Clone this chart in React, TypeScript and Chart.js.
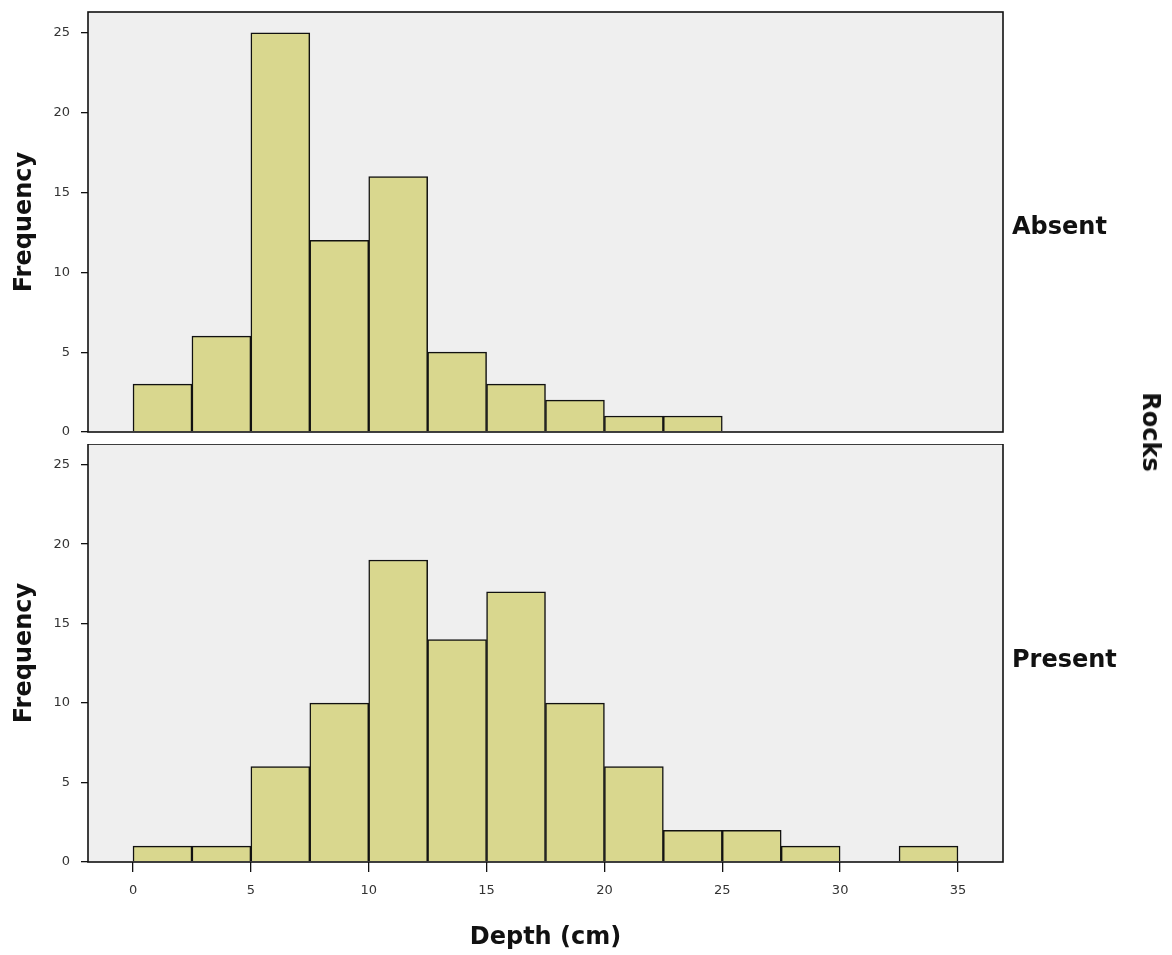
import React, { useEffect, useRef } from "react";
import { Chart, registerables } from "chart.js";

Chart.register(...registerables);

// ---- data ----
const absentBinStarts = [0, 2.5, 5, 7.5, 10, 12.5, 15, 17.5, 20, 22.5];
const absentCounts = [3, 6, 25, 12, 16, 5, 3, 2, 1, 1];

const presentBinStarts = [0, 2.5, 5, 7.5, 10, 12.5, 15, 17.5, 20, 22.5, 25, 27.5, 30, 32.5];
const presentCounts = [1, 1, 6, 10, 19, 14, 17, 10, 6, 2, 2, 1, null, 1];

const binWidth = 2.5;
const xTickValues = [0, 5, 10, 15, 20, 25, 30, 35];
const yTickValues = [0, 5, 10, 15, 20, 25];

const panelLabels = ["Absent", "Present"];
const rowTitle = "Rocks";
const xTitle = "Depth (cm)";
const yTitle = "Frequency";

const X_MIN = -1.91;
const X_MAX = 36.91;
const Y_MAX = 26.3;

const FONT = "'DejaVu Sans', sans-serif";
const BAR_FILL = "#d9d78e";

function toPoints(starts: number[], counts: (number | null)[]) {
  return starts.map((s, i) => ({ x: s + binWidth / 2, y: counts[i] }));
}

const framePlugin = {
  id: "frame",
  beforeDatasetsDraw(chart: any) {
    const { ctx, chartArea } = chart;
    ctx.save();
    ctx.fillStyle = "#efefef";
    ctx.fillRect(chartArea.left, chartArea.top, chartArea.right - chartArea.left, chartArea.bottom - chartArea.top);
    ctx.restore();
  },
  afterDatasetsDraw(chart: any, _args: any, opts: any) {
    const { ctx, chartArea } = chart;
    ctx.save();
    ctx.strokeStyle = "#111";
    ctx.lineWidth = 1.6;
    ctx.strokeRect(chartArea.left, chartArea.top, chartArea.right - chartArea.left, chartArea.bottom - chartArea.top);
    if (opts && opts.label) {
      ctx.fillStyle = "#111";
      ctx.font = `bold 24px ${FONT}`;
      ctx.textAlign = "left";
      ctx.textBaseline = "middle";
      ctx.fillText(opts.label, chartArea.right + 9, (chartArea.top + chartArea.bottom) / 2 + opts.dy);
    }
    ctx.restore();
  },
};

function makeConfig(points: any[], label: string, showX: boolean, padding: any, xHeight: number) {
  return {
    type: "bar" as const,
    data: {
      datasets: [
        {
          data: points,
          backgroundColor: BAR_FILL,
          borderColor: "#111",
          borderWidth: 1.5,
          barPercentage: 1,
          categoryPercentage: 1,
        },
      ],
    },
    options: {
      responsive: false,
      animation: false as const,
      layout: { padding },
      plugins: {
        legend: { display: false },
        tooltip: { enabled: false },
        frame: { label, dy: showX ? 8 : 6 },
      },
      scales: {
        x: {
          type: "linear" as const,
          display: showX,
          offset: false,
          min: X_MIN,
          max: X_MAX,
          afterFit: (s: any) => {
            s.height = xHeight;
            s.paddingLeft = 0;
            s.paddingRight = 0;
          },
          afterBuildTicks: (s: any) => {
            s.ticks = xTickValues.map((v) => ({ value: v }));
          },
          border: { display: false },
          grid: { offset: false, drawOnChartArea: false, drawTicks: true, tickLength: 10, color: "#111", lineWidth: 1.3 },
          ticks: { color: "#333", font: { family: FONT, size: 13 }, padding: 11, maxRotation: 0 },
          title: {
            display: true,
            text: xTitle,
            color: "#111",
            font: { family: FONT, size: 24, weight: "bold" as const },
            padding: { top: 0, bottom: 3 },
          },
        },
        y: {
          type: "linear" as const,
          min: 0,
          max: Y_MAX,
          afterFit: (s: any) => {
            s.width = 88;
            s.paddingTop = 0;
            s.paddingBottom = 0;
          },
          afterBuildTicks: (s: any) => {
            s.ticks = yTickValues.map((v) => ({ value: v }));
          },
          border: { display: false },
          grid: { drawOnChartArea: false, drawTicks: true, tickLength: 7, color: "#111", lineWidth: 1.3 },
          ticks: { color: "#333", font: { family: FONT, size: 13 }, padding: 11 },
          title: {
            display: true,
            text: yTitle,
            color: "#111",
            font: { family: FONT, size: 24, weight: "bold" as const },
            padding: { top: 10, bottom: 4 },
          },
        },
      },
    },
    plugins: [framePlugin],
  };
}

export default function App() {
  const topRef = useRef<HTMLCanvasElement | null>(null);
  const botRef = useRef<HTMLCanvasElement | null>(null);

  useEffect(() => {
    const c1 = new Chart(
      topRef.current as HTMLCanvasElement,
      makeConfig(toPoints(absentBinStarts, absentCounts), panelLabels[0], false, { top: 12, right: 169, bottom: 12, left: 0 }, 0) as any
    );
    const c2 = new Chart(
      botRef.current as HTMLCanvasElement,
      makeConfig(toPoints(presentBinStarts, presentCounts), panelLabels[1], true, { top: 0, right: 169, bottom: 0, left: 0 }, 93) as any
    );
    return () => {
      c1.destroy();
      c2.destroy();
    };
  }, []);

  return (
    <div style={{ position: "absolute", left: 0, top: 0, width: 1172, height: 955, background: "#fff", overflow: "hidden" }}>
      <canvas ref={topRef} width={1172} height={444} style={{ position: "absolute", left: 0, top: 0 }} />
      <canvas ref={botRef} width={1172} height={511} style={{ position: "absolute", left: 0, top: 444 }} />
      <div
        style={{
          position: "absolute",
          left: 1151,
          top: 432,
          transform: "translate(-50%, -50%) rotate(90deg)",
          fontFamily: FONT,
          fontWeight: "bold",
          fontSize: 24,
          color: "#111",
          whiteSpace: "nowrap",
          lineHeight: 1,
        }}
      >
        {rowTitle}
      </div>
    </div>
  );
}
